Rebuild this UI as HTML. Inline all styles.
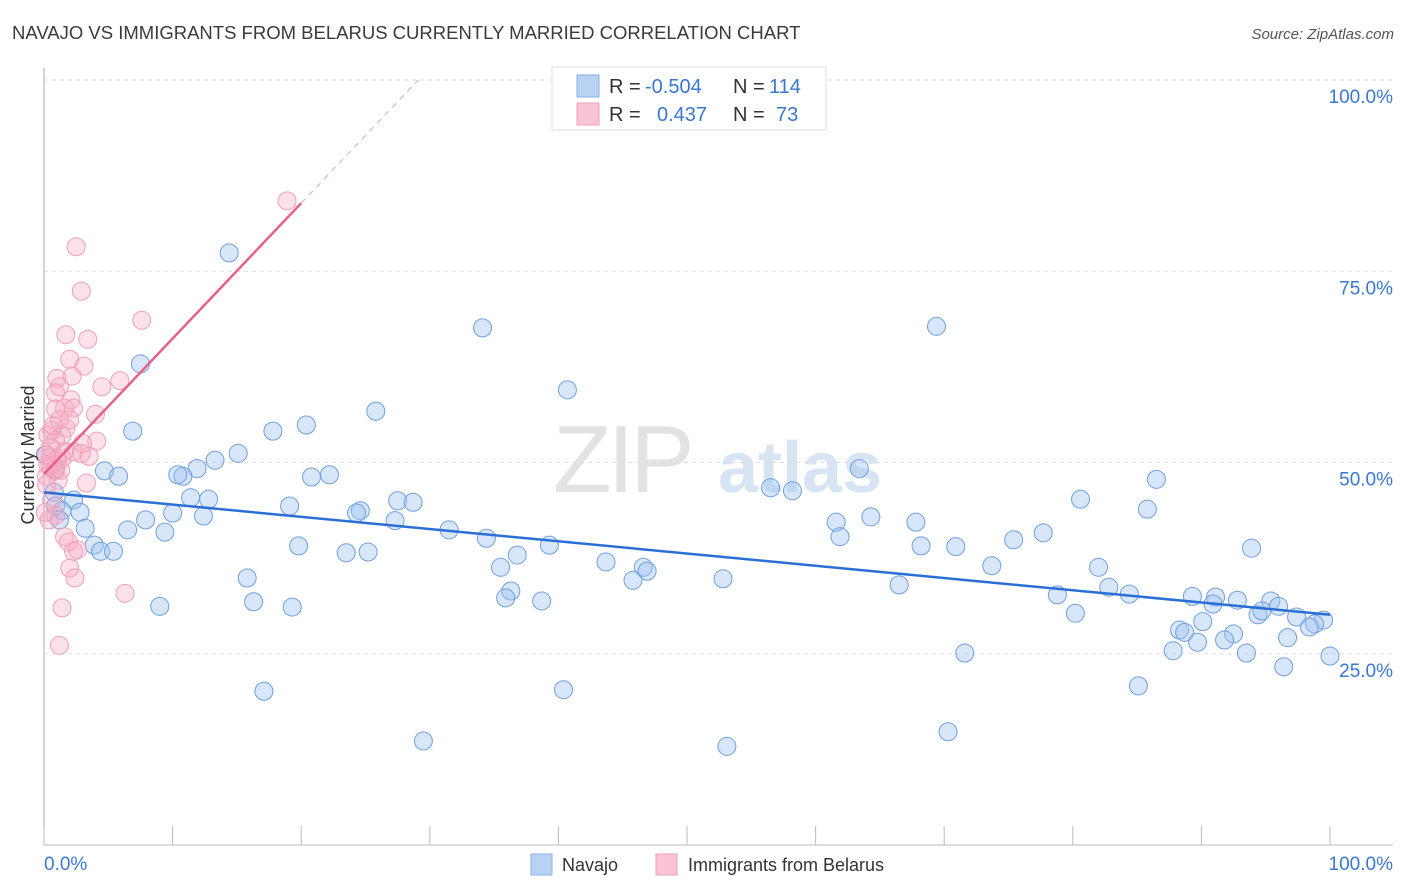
<!DOCTYPE html>
<html><head><meta charset="utf-8">
<style>
body{margin:0;background:#fff;font-family:"Liberation Sans",sans-serif;}
#wrap{position:relative;width:1406px;height:892px;overflow:hidden;}
svg text{font-family:"Liberation Sans",sans-serif;}
</style></head>
<body><div id="wrap">
<svg id="chart" width="1406" height="892">
<text x="12" y="39" font-size="18.5" fill="#3a3a3a">NAVAJO VS IMMIGRANTS FROM BELARUS CURRENTLY MARRIED CORRELATION CHART</text>
<text x="1394" y="39" font-size="15" fill="#555" font-style="italic" text-anchor="end">Source: ZipAtlas.com</text>
<g>
<text x="553" y="492" font-size="96" fill="#e2e2e2" font-family="Liberation Serif" letter-spacing="-4">ZIP</text>
<text x="718" y="492" font-size="72" fill="#d6e4f4" font-weight="bold">atlas</text>
</g>
<g id="grid"></g>
<g id="axes"></g>
<g id="marks"></g>
<text transform="translate(34,455) rotate(-90)" font-size="18" fill="#333" text-anchor="middle">Currently Married</text>
<g>
<rect x="552" y="67" width="274" height="63" fill="#fff" stroke="#ddd"/>
<rect x="577" y="75" width="22" height="22" fill="#b8d2f4" stroke="#8ab0e6"/>
<rect x="577" y="103" width="22" height="22" fill="#f9c4d4" stroke="#f0a0b8"/>
<text x="609" y="93" font-size="20" fill="#333">R = </text><text x="645" y="93" font-size="20" fill="#3a78d0">-0.504</text>
<text x="733" y="93" font-size="20" fill="#333">N = </text><text x="769" y="93" font-size="20" fill="#3a78d0">114</text>
<text x="609" y="121" font-size="20" fill="#333">R = </text><text x="657" y="121" font-size="20" fill="#3a78d0">0.437</text>
<text x="733" y="121" font-size="20" fill="#333">N = </text><text x="776" y="121" font-size="20" fill="#3a78d0">73</text>
</g>
<g>
<rect x="531" y="854" width="21" height="21" fill="#b8d2f4" stroke="#8ab0e6"/>
<text x="562" y="871" font-size="18" fill="#333">Navajo</text>
<rect x="656" y="854" width="21" height="21" fill="#f9c4d4" stroke="#f0a0b8"/>
<text x="688" y="871" font-size="18" fill="#333">Immigrants from Belarus</text>
</g>
</svg>
<script>
const navX=[14.4,7.5,34.1,69.4,40.7,25.8,20.4,6.9,17.8,15.1,13.3,11.9,10.8,10.4,4.7,5.8,20.8,22.2,63.4,86.5,56.5,58.2,80.6,11.4,12.8,27.5,28.7,19.1,0.8,2.3,0.9,2.8,12.4,7.9,10.0,24.6,24.3,27.3,31.5,34.4,36.8,39.3,61.6,64.3,67.8,85.8,6.5,9.4,3.2,3.9,4.4,5.4,19.8,23.5,25.2,68.2,70.9,75.4,77.7,93.9,61.9,43.7,46.6,46.9,45.8,35.5,36.3,35.9,38.7,52.8,66.5,73.7,82.0,82.8,84.4,78.8,80.2,89.3,91.1,90.9,92.8,95.4,96.0,94.4,94.7,97.4,99.5,98.8,98.4,90.1,88.3,88.7,92.5,96.7,89.7,91.8,87.8,93.5,71.6,100,96.4,15.8,16.3,19.3,9.0,85.1,17.1,40.4,70.3,29.5,53.1,0.9,0.1,1.4,1.2];
const navY=[77.4,62.9,67.6,67.8,59.5,56.7,54.9,54.1,54.1,51.2,50.3,49.2,48.2,48.4,48.9,48.2,48.1,48.4,49.2,47.8,46.7,46.3,45.2,45.4,45.2,45.0,44.8,44.3,46.1,45.1,44.3,43.5,43.0,42.5,43.4,43.7,43.4,42.4,41.2,40.1,37.9,39.2,42.2,42.9,42.2,43.9,41.2,40.9,41.4,39.2,38.4,38.4,39.1,38.2,38.3,39.1,39.0,39.9,40.8,38.8,40.3,37.0,36.3,35.8,34.6,36.3,33.2,32.3,31.9,34.8,34.0,36.5,36.3,33.7,32.8,32.7,30.3,32.5,32.4,31.5,32.0,31.9,31.2,30.1,30.6,29.8,29.4,28.9,28.5,29.2,28.1,27.8,27.6,27.1,26.5,26.8,25.4,25.1,25.1,24.7,23.3,34.9,31.8,31.1,31.2,20.8,20.1,20.3,14.8,13.6,12.9,49.2,51.0,43.7,42.5];
const belX=[18.9,2.5,2.9,7.6,1.7,3.4,2.0,3.1,1.0,5.9,2.2,4.5,1.2,0.9,2.1,1.6,0.9,4.0,2.3,1.2,1.7,0.6,1.4,4.1,0.9,3.0,0.5,1.6,2.3,1.4,0.5,2.9,3.5,0.2,1.0,0.5,0.8,0.2,1.1,3.3,0.2,0.6,0.9,0.4,0.1,1.6,1.9,2.3,2.0,2.4,6.3,1.4,1.2,2.6,0.9,0.3,0.7,2.0,0.3,1.3];
const belY=[84.2,78.2,72.4,68.6,66.7,66.1,63.5,62.6,61.0,60.7,61.3,59.9,59.9,59.1,58.2,57.1,57.0,56.3,57.1,55.6,54.5,54.2,53.5,52.8,52.9,52.5,52.0,51.4,51.4,50.5,50.7,51.2,50.8,51.0,50.3,49.5,49.0,48.2,47.7,47.3,47.1,45.1,43.1,42.5,43.5,40.3,39.6,38.4,36.2,34.9,32.9,31.0,26.1,38.6,49.0,53.6,54.8,55.6,49.7,49.0];
const navTrend=[46.1,30.1];     // y at x=0 and x=100
const belTrend=[48.5,1.77];     // intercept, slope
const yTicks=[25,50,75,100];
const yTickLabels=["25.0%","50.0%","75.0%","100.0%"];
const xTicks=[0,10,20,30,40,50,60,70,80,90,100];

const NS="http://www.w3.org/2000/svg";
const X=v=>44+v*12.86;
const Y=v=>845-v*7.65;
function mk(parent,tag,attrs){const e=document.createElementNS(NS,tag);for(const k in attrs)e.setAttribute(k,attrs[k]);document.getElementById(parent).appendChild(e);return e;}

yTicks.forEach((t,i)=>{
  const l=mk('grid','line',{x1:44,x2:1393,y1:Y(t),y2:Y(t),stroke:'#ddd','stroke-dasharray':'4,4'});
  
  
  const tx=mk('grid','text',{x:1393,y:Y(t)+23,'font-size':19,fill:'#3a78d0','text-anchor':'end'});
  tx.textContent=yTickLabels[i];
  
  
});
const ax=mk('axes','line',{x1:44,x2:1393,y1:845,y2:845,stroke:'#bbb'});


const ay=mk('axes','line',{x1:44,x2:44,y1:68,y2:845,stroke:'#aaa'});


xTicks.forEach(t=>{
  const l=mk('axes','line',{x1:X(t),x2:X(t),y1:826,y2:845,stroke:'#bbb'});
  
  
});
const xl0=mk('axes','text',{x:44,y:870,'font-size':19,fill:'#3a78d0'});
xl0.textContent='0.0%';


const xl1=mk('axes','text',{x:1393,y:870,'font-size':19,fill:'#3a78d0','text-anchor':'end'});
xl1.textContent='100.0%';



navX.forEach((v,i)=>{
  const c=mk('marks','circle',{cx:X(v),cy:Y(navY[i]),r:9,fill:'rgba(160,195,240,0.42)',stroke:'#6fa0e0','stroke-width':1});
  
  
});
belX.forEach((v,i)=>{
  const c=mk('marks','circle',{cx:X(v),cy:Y(belY[i]),r:9,fill:'rgba(245,170,195,0.35)',stroke:'#f0a0b8','stroke-width':1});
  
  
});
const nl=mk('marks','line',{x1:X(0),y1:Y(navTrend[0]),x2:X(100),y2:Y(navTrend[1]),stroke:'#2a6fd6','stroke-width':2.5});


const bEnd=20, bDash=(100-belTrend[0])/belTrend[1];
const bl=mk('marks','line',{x1:X(0),y1:Y(belTrend[0]),x2:X(bEnd),y2:Y(belTrend[0]+belTrend[1]*bEnd),stroke:'#e8608a','stroke-width':2.5});


const bd=mk('marks','line',{x1:X(bEnd),y1:Y(belTrend[0]+belTrend[1]*bEnd),x2:X(bDash),y2:Y(100),stroke:'#e8a0b8','stroke-width':1,'stroke-dasharray':'6,5'});


</script>
</div></body></html>
